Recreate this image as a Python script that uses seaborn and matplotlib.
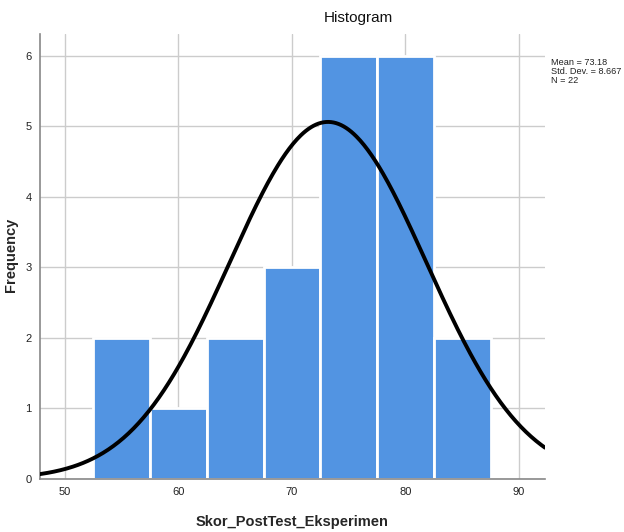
import numpy as np
import pandas as pd
import matplotlib
matplotlib.use("Agg")
import matplotlib.pyplot as plt
import seaborn as sns

# Data
bin_edges = [52.5, 57.5, 62.5, 67.5, 72.5, 77.5, 82.5, 87.5]
bin_centers = [55, 60, 65, 70, 75, 80, 85]
counts = [2, 1, 2, 3, 6, 6, 2]
mean_val = 73.18
std_val = 8.667
n_val = 22
x_ticks = [50, 60, 70, 80, 90]
y_ticks = [0, 1, 2, 3, 4, 5, 6]

sns.set_style("white")
plt.rcParams['font.family'] = ['Liberation Sans', 'DejaVu Sans']

fig = plt.figure(figsize=(6.24, 5.32), dpi=100)
ax = fig.add_axes([40/624, 53/532, 505/624, 445/532])

df = pd.DataFrame({"x": bin_centers, "w": counts})
sns.histplot(data=df, x="x", weights="w", bins=bin_edges, ax=ax,
             color="#5294E2", alpha=1.0, edgecolor="white", linewidth=2.0, zorder=2)

xs = np.linspace(47.8, 92.3, 400)
binw = bin_edges[1] - bin_edges[0]
ys = n_val * binw / (std_val * np.sqrt(2 * np.pi)) * np.exp(-0.5 * ((xs - mean_val) / std_val) ** 2)
sns.lineplot(x=xs, y=ys, ax=ax, color="black", linewidth=2.8, zorder=3)

ax.set_xlim(47.8, 92.3)
ax.set_ylim(0, 6.31)
ax.set_xticks(x_ticks)
ax.set_yticks(y_ticks)
ax.set_xticklabels([str(t) for t in x_ticks], fontsize=8, color="#222222")
ax.set_yticklabels([str(t) for t in y_ticks], fontsize=8, color="#222222")
ax.tick_params(length=0, pad=6)
ax.grid(True, color="#CCCCCC", linewidth=1.0, zorder=0)
ax.set_axisbelow(True)
for s in ["top", "right"]:
    ax.spines[s].set_visible(False)
for s in ["left", "bottom"]:
    ax.spines[s].set_color("#888888")
    ax.spines[s].set_linewidth(1.2)

ax.set_xlabel("")
ax.set_ylabel("")
fig.text(292/624, 1 - 522/532, "Skor_PostTest_Eksperimen", ha="center", va="center",
         fontsize=10.5, fontweight="bold")
fig.text(11/624, 1 - 255/532, "Frequency", ha="center", va="center", rotation=90,
         fontsize=10.5, fontweight="bold")

fig.text(358/624, 1 - 18/532, "Histogram", ha="center", va="center", fontsize=11,
         fontweight="medium", color="#111111")
fig.text(551/624, 1 - 58/532, f"Mean = {mean_val}\nStd. Dev. = {std_val}\nN = {n_val}",
         ha="left", va="top", fontsize=6.6, linespacing=1.0, color="#222222",
         family=['Liberation Sans Narrow', 'Liberation Sans', 'DejaVu Sans'])

fig.savefig("out.png", dpi=100)
